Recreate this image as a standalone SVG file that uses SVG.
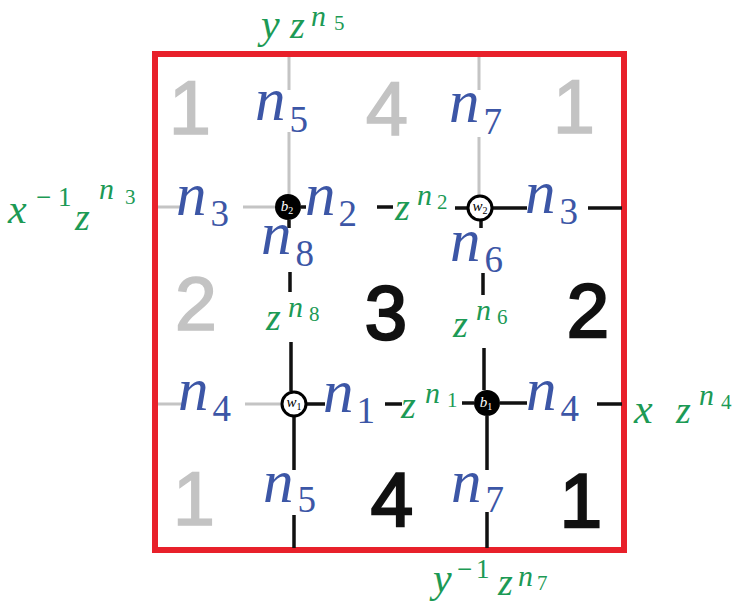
<svg xmlns="http://www.w3.org/2000/svg" width="739" height="603" viewBox="0 0 739 603">
<style>
.frame{fill:none;stroke:#e8202a;stroke-width:6}
.gray{fill:none;stroke:#c4c4c4;stroke-width:3}
.blk{fill:none;stroke:#111;stroke-width:3.5}
.rg{font-family:"Liberation Sans",Arial,sans-serif;font-size:76px;fill:#c3c3c3;text-anchor:middle;stroke:#c3c3c3;stroke-width:1.5}
.rb{font-family:"Liberation Sans",Arial,sans-serif;font-size:76px;fill:#111;text-anchor:middle;stroke:#111;stroke-width:2.5}
.bl{font-family:"Liberation Serif","Times New Roman",serif;font-style:italic;font-size:61px;fill:#3c56a6}
.bs{font-style:normal;font-size:37px}
.g{font-family:"Liberation Serif","Times New Roman",serif;font-style:italic;font-size:38px;fill:#1c9a55}
.gx{font-size:42px}
.gn{font-size:30px}
.gd{font-style:normal;font-size:21px}
.gm{font-style:normal;font-size:27px}
.nl{font-family:"Liberation Serif","Times New Roman",serif;font-style:italic;font-size:15px;text-anchor:middle}
.nls{font-style:normal;font-size:10px}
</style>
<rect class="frame" x="155" y="54" width="469" height="496"/>
<g id="regions">
<text class="rg" x="190" y="134">1</text>
<text class="rg" x="387" y="135">4</text>
<text class="rg" x="574" y="133">1</text>
<text class="rg" x="196" y="330">2</text>
<text class="rb" x="386" y="339">3</text>
<text class="rb" x="588" y="337">2</text>
<text class="rg" x="194" y="525">1</text>
<text class="rb" x="392" y="526">4</text>
<text class="rb" x="581" y="527">1</text>
</g>
<g id="connectors">
<path class="gray" d="M289 57V90M289 132V194M479 57V90M479 137V195M158 207H180M243 207H275M158 404H182M245 404H281"/>
<path class="blk" d="M301 207H306M377 207H393M455 208H468M492 208H527M588 208H622"/>
<path class="blk" d="M289 220V228M290 272V292M291 342V391M294 417V470M294 515V548"/>
<path class="blk" d="M481 220V228M483 273V295M484 348V390M487 416V470M487 512V548"/>
<path class="blk" d="M307 404H325M385 404H402M462 403H474M500 403H527M597 404H622"/>
</g>
<g id="b2"><circle cx="288" cy="207" r="13" fill="#000"/><text class="nl" x="287" y="211" fill="#fff">b<tspan class="nls" dy="3">2</tspan></text></g>
<g id="w2"><circle cx="480" cy="208" r="12" fill="#fff" stroke="#000" stroke-width="3"/><text class="nl" x="480" y="211" fill="#000">w<tspan class="nls" dy="3">2</tspan></text></g>
<g id="w1"><circle cx="294" cy="404" r="12" fill="#fff" stroke="#000" stroke-width="3"/><text class="nl" x="294" y="407" fill="#000">w<tspan class="nls" dy="3">1</tspan></text></g>
<g id="b1"><circle cx="487" cy="403" r="13" fill="#000"/><text class="nl" x="486" y="407" fill="#fff">b<tspan class="nls" dy="3">1</tspan></text></g>
<g id="edge-labels">
<text class="bl" x="255" y="120">n<tspan class="bs" dx="4" dy="12">5</tspan></text>
<text class="bl" x="449" y="122">n<tspan class="bs" dx="4" dy="12">7</tspan></text>
<text class="bl" x="176" y="215">n<tspan class="bs" dx="4" dy="11">3</tspan></text>
<text class="bl" x="305" y="215">n<tspan class="bs" dx="3" dy="11">2</tspan></text>
<text class="bl" x="525" y="213">n<tspan class="bs" dx="4" dy="11">3</tspan></text>
<text class="bl" x="261" y="254">n<tspan class="bs" dx="4" dy="12">8</tspan></text>
<text class="bl" x="450" y="261">n<tspan class="bs" dx="4" dy="11">6</tspan></text>
<text class="bl" x="178" y="410">n<tspan class="bs" dx="4" dy="11">4</tspan></text>
<text class="bl" x="323" y="412">n<tspan class="bs" dx="3" dy="11">1</tspan></text>
<text class="bl" x="526" y="410">n<tspan class="bs" dx="4" dy="11">4</tspan></text>
<text class="bl" x="263" y="502">n<tspan class="bs" dx="4" dy="10">5</tspan></text>
<text class="bl" x="451" y="502">n<tspan class="bs" dx="4" dy="10">7</tspan></text>
</g>
<g id="weights">
<text class="g"><tspan x="395" y="220">z</tspan><tspan class="gn" x="417" y="205">n</tspan><tspan class="gd" x="437" y="209">2</tspan></text>
<text class="g"><tspan x="401" y="418">z</tspan><tspan class="gn" x="425" y="403">n</tspan><tspan class="gd" x="447" y="407">1</tspan></text>
<text class="g"><tspan x="266" y="330">z</tspan><tspan class="gn" x="288" y="317">n</tspan><tspan class="gd" x="309" y="321">8</tspan></text>
<text class="g"><tspan x="453" y="337">z</tspan><tspan class="gn" x="476" y="320">n</tspan><tspan class="gd" x="497" y="324">6</tspan></text>
<text class="g"><tspan class="gx" x="261" y="38">y</tspan><tspan x="290" y="38">z</tspan><tspan class="gn" x="311" y="26">n</tspan><tspan class="gd" x="334" y="30">5</tspan></text>
<text class="g"><tspan class="gx" x="8" y="223">x</tspan><tspan class="gm" x="36" y="206">−</tspan><tspan class="gm" x="58" y="206">1</tspan><tspan x="75" y="230">z</tspan><tspan class="gn" x="99" y="199">n</tspan><tspan class="gd" x="125" y="204">3</tspan></text>
<text class="g"><tspan class="gx" x="634" y="423">x</tspan><tspan x="676" y="423">z</tspan><tspan class="gn" x="699" y="405">n</tspan><tspan class="gd" x="721" y="409">4</tspan></text>
<text class="g"><tspan class="gx" x="433" y="592">y</tspan><tspan class="gm" x="457" y="578">−</tspan><tspan class="gm" x="476" y="578">1</tspan><tspan x="498" y="595">z</tspan><tspan class="gn" x="518" y="586">n</tspan><tspan class="gd" x="537" y="590">7</tspan></text>
</g>
</svg>
